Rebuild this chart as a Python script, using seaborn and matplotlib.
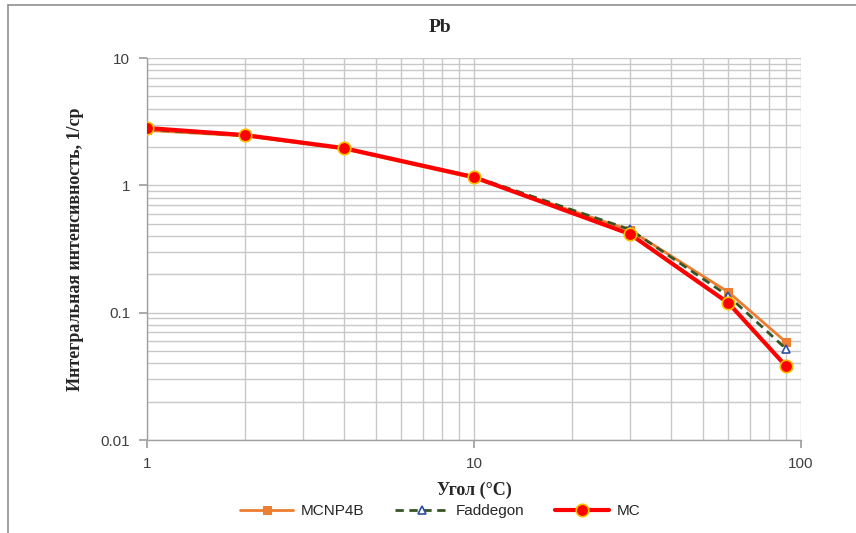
import matplotlib
matplotlib.use("Agg")
import matplotlib.pyplot as plt
import seaborn as sns
import pandas as pd
import numpy as np
from matplotlib.lines import Line2D
from matplotlib.ticker import LogLocator, FixedLocator, FuncFormatter, NullFormatter

angles = [1, 2, 4, 10, 30, 60, 90]
mcnp4b = [2.70, 2.44, 1.93, 1.14, 0.445, 0.145, 0.0587]
faddegon = [2.75, 2.46, 1.95, 1.17, 0.45, 0.135, 0.052]
mc = [2.82, 2.48, 1.96, 1.16, 0.414, 0.119, 0.038]
series_names = ["MCNP4B", "Faddegon", "MC"]

sns.set_theme(style="white")
plt.rcParams["font.family"] = ["Liberation Sans", "DejaVu Sans"]

df = pd.DataFrame({
    "angle": angles * 3,
    "value": mcnp4b + faddegon + mc,
    "series": [series_names[0]] * 7 + [series_names[1]] * 7 + [series_names[2]] * 7,
})

fig = plt.figure(figsize=(8.56, 5.33), dpi=100)
ax = fig.add_axes([147/856, 1-440/533, (801-147)/856, (440-58)/533])

ax.set_xscale("log")
ax.set_yscale("log")
ax.set_xlim(1, 100)
ax.set_ylim(0.01, 10)

# grid
ax.xaxis.set_major_locator(FixedLocator([1, 10, 100]))
ax.xaxis.set_minor_locator(LogLocator(base=10, subs=np.arange(2, 10)))
ax.yaxis.set_major_locator(FixedLocator([0.01, 0.1, 1, 10]))
ax.yaxis.set_minor_locator(LogLocator(base=10, subs=np.arange(2, 10)))
ax.xaxis.set_minor_formatter(NullFormatter())
ax.yaxis.set_minor_formatter(NullFormatter())
ax.xaxis.set_major_formatter(FuncFormatter(lambda v, p: f"{v:g}"))
ax.yaxis.set_major_formatter(FuncFormatter(lambda v, p: f"{v:g}"))
ax.grid(True, which="both", color="#c8c8c8", linewidth=1.0)
ax.set_axisbelow(True)

sns.lineplot(data=df[df.series == "MCNP4B"], x="angle", y="value", ax=ax,
             color="#ED7D31", linewidth=2.0, marker="s", markersize=6,
             markeredgecolor="#ED7D31", label="MCNP4B", zorder=3)
sns.lineplot(data=df[df.series == "Faddegon"], x="angle", y="value", ax=ax,
             color="#375623", linewidth=2.0, linestyle=(0, (3, 2)), marker="^",
             markersize=6, markerfacecolor="white", markeredgecolor="#2F4F9F",
             markeredgewidth=1.2, label="Faddegon", zorder=4)
sns.lineplot(data=df[df.series == "MC"], x="angle", y="value", ax=ax,
             color="#FF0000", linewidth=3.0, marker="o", markersize=9,
             markerfacecolor="#FF0000", markeredgecolor="#FFC000",
             markeredgewidth=1.2, label="MC", zorder=5)

for s in ["top", "right"]:
    ax.spines[s].set_visible(False)
for s in ["left", "bottom"]:
    ax.spines[s].set_color("#a0a0a0")
    ax.spines[s].set_linewidth(1.0)

ax.tick_params(axis="both", which="major", length=6, color="#a0a0a0",
               labelsize=11, labelcolor="#404040", direction="out",
               left=True, bottom=True, pad=6)
ax.tick_params(axis="both", which="minor", length=0)

ax.set_xlabel("Угол (°С)", fontsize=13, fontweight="bold",
              family=["Liberation Serif", "DejaVu Serif"], labelpad=8)
ax.set_ylabel("Интегральная интенсивность, 1/ср", fontsize=13, fontweight="bold",
              family=["Liberation Serif", "DejaVu Serif"], labelpad=12)
fig.text(440/856, 1-28/533, "Pb", fontsize=14, fontweight="bold",
         family=["Liberation Serif", "DejaVu Serif"], ha="center", va="center")

ax.legend(loc="center", bbox_to_anchor=(440/856, 1-511/533),
          bbox_transform=fig.transFigure, ncol=3, frameon=False,
          fontsize=11, handlelength=3.5, columnspacing=2.0, handletextpad=0.5)

# outer chart border (left and top)
fig.add_artist(Line2D([8/856, 8/856], [0, 1-5/533], color="#909090", linewidth=1.2,
                      transform=fig.transFigure))
fig.add_artist(Line2D([8/856, 1], [1-5/533, 1-5/533], color="#909090", linewidth=1.2,
                      transform=fig.transFigure))

fig.savefig("out.png", dpi=100)
